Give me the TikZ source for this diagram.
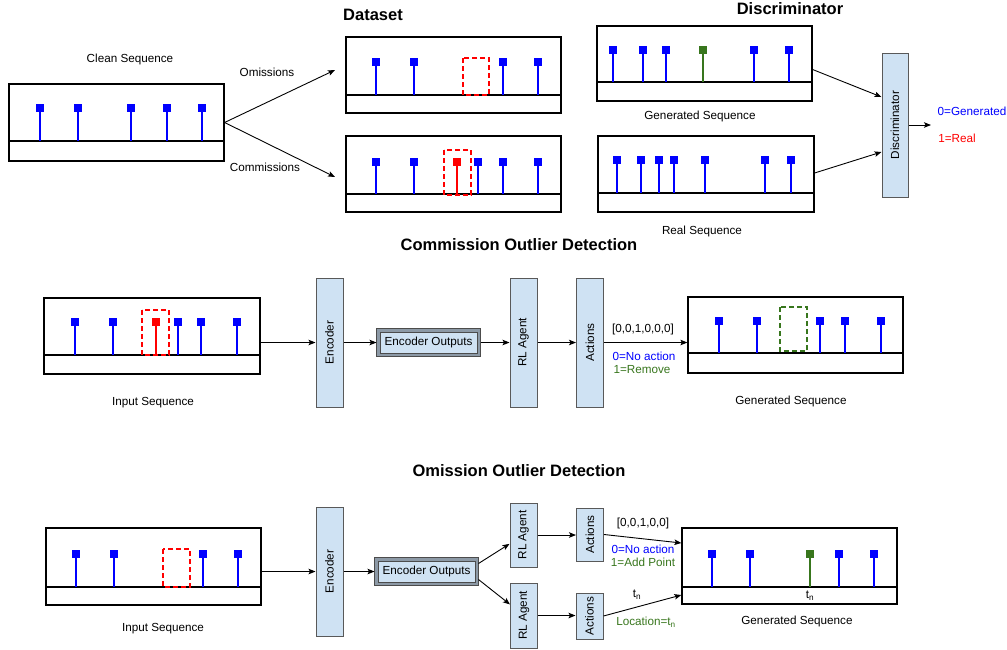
\documentclass[tikz,border=0pt]{standalone}
\usepackage{fontspec}
\setmainfont{Liberation Sans}
\usepackage{tikz}
\usetikzlibrary{calc,arrows.meta}
\definecolor{blockblue}{HTML}{CFE2F3}
\definecolor{darkgreen}{HTML}{38761D}
\definecolor{bevelgray}{HTML}{8C99A6}

\begin{document}
\begin{tikzpicture}[
    x=1pt, y=-1pt,
    font=\fontsize{11.7}{14}\selectfont,
    panel/.style={draw,line width=1.2pt,minimum width=215,minimum height=76,inner sep=0},
    axis/.style={line width=1.8pt},
    stem/.style={line width=1.9pt},
    outlier/.style={line width=1.4pt,dash pattern=on 5pt off 3pt},
    block/.style={draw=black!65,fill=blockblue,line width=1pt,rotate=90,minimum height=27,inner sep=0},
    bevelbox/.style={draw=black!70,fill=blockblue,line width=0.8pt,minimum width=97,minimum height=21,inner sep=0,outer sep=3.5pt,
        preaction={draw=black!70,line width=7.5pt},preaction={draw=bevelgray,line width=5.5pt}},
    title/.style={font=\fontsize{16.5}{20}\selectfont\bfseries},
    every edge/.style={draw,-{Stealth[length=7pt,width=5.5pt,inset=1.5pt]},line width=0.9pt}
    ]
    \useasboundingbox (0,0) rectangle (1007,649);

    % ---- dataset creation
    \node (cleanlbl) at (130,59) {Clean Sequence};
    \node[panel,minimum height=77] (clean) at (116.5,122.5) {};
    \draw[axis] (9,141) -- (224,141);
    \foreach \x in {40,78,131,167,202} {
        \draw[stem,blue] (\x,141) -- (\x,108);
        \fill[blue] (\x-4.2,103.8) rectangle (\x+4.2,112.2);
    }

    \node[title] (dstitle) at (373,15) {Dataset};
    \node[panel] (dsom) at (453.5,75) {};
    \draw[axis] (346,95) -- (561,95);
    \foreach \x in {376,414,503,538} {
        \draw[stem,blue] (\x,95) -- (\x,62);
        \fill[blue] (\x-4.2,57.8) rectangle (\x+4.2,66.2);
    }
    \draw[outlier,red] (463,58) rectangle (489,95);

    \node[panel] (dscom) at (453.5,174) {};
    \draw[axis] (346,194) -- (561,194);
    \foreach \x in {376,414,478,503,538} {
        \draw[stem,blue] (\x,194) -- (\x,162);
        \fill[blue] (\x-4.2,157.8) rectangle (\x+4.2,166.2);
    }
    \draw[stem,red] (457,194) -- (457,162);
    \fill[red] (452.8,157.8) rectangle (461.2,166.2);
    \draw[outlier,red] (444,150) rectangle (471,195);

    \coordinate (omend) at (335,70);
    \coordinate (comend) at (335,177);
    \node (omlbl) at (267,72) {Omissions};
    \node (comlbl) at (265,167) {Commissions};
    \path (clean.east) edge (omend)
          (clean.east) edge (comend);

    % ---- discriminator
    \node[title] (disctitle) at (790,9) {Discriminator};
    \node[panel,minimum height=75] (gen) at (704.5,63.5) {};
    \draw[axis] (597,82) -- (812,82);
    \foreach \x in {613,643,666,754,789} {
        \draw[stem,blue] (\x,82) -- (\x,50);
        \fill[blue] (\x-4.2,45.8) rectangle (\x+4.2,54.2);
    }
    \draw[stem,darkgreen] (703,82) -- (703,50);
    \fill[darkgreen] (698.8,45.8) rectangle (707.2,54.2);
    \node (genlbl) at (700,116) {Generated Sequence};

    \node[panel,minimum width=216] (real) at (706,174) {};
    \draw[axis] (598,193) -- (814,193);
    \foreach \x in {617,641,659,674,705,765,791} {
        \draw[stem,blue] (\x,193) -- (\x,160);
        \fill[blue] (\x-4.2,155.8) rectangle (\x+4.2,164.2);
    }
    \node (reallbl) at (702,231) {Real Sequence};

    \node[block,minimum width=144,minimum height=26] (disc) at (895,125) {Discriminator};
    \coordinate (discout) at (931,125);
    \node[blue] (genout) at (972,111) {0=Generated};
    \node[red] (realout) at (957,138) {1=Real};
    \path ($(gen.east)+(0,6)$) edge ($(disc.north)+(0,-28)$)
          ($(real.east)+(0,-1)$) edge ($(disc.north)+(0,27)$)
          (disc.south) edge (discout);

    % ---- commission outlier detection
    \node[title] (comtitle) at (519,245) {Commission Outlier Detection};
    \node[panel,minimum width=216] (cin) at (152,336) {};
    \draw[axis] (44,355) -- (260,355);
    \foreach \x in {75,113,178,201,237} {
        \draw[stem,blue] (\x,355) -- (\x,322);
        \fill[blue] (\x-4.2,317.8) rectangle (\x+4.2,326.2);
    }
    \draw[stem,red] (156,355) -- (156,322);
    \fill[red] (151.8,317.8) rectangle (160.2,326.2);
    \draw[outlier,red] (142,310) rectangle (169,355);
    \node (cinlbl) at (153,403) {Input Sequence};

    \node[block,minimum width=129] (cenc) at (329.5,342.5) {Encoder};
    \node[bevelbox] (cout) at (428.5,342.5) {Encoder Outputs};
    \node[block,minimum width=129] (crl) at (523.5,342.5) {RL Agent};
    \node[block,minimum width=129] (cact) at (590,342.5) {Actions};

    \node[panel] (cgen) at (795.5,335) {};
    \draw[axis] (688,353) -- (903,353);
    \foreach \x in {719,757,820,845,881} {
        \draw[stem,blue] (\x,353) -- (\x,321);
        \fill[blue] (\x-4.2,316.8) rectangle (\x+4.2,325.2);
    }
    \draw[outlier,darkgreen] (780,307) rectangle (807,351);
    \node (cgenlbl) at (791,401) {Generated Sequence};

    \node (cvec) at (643,329) {[0,0,1,0,0,0]};
    \node[blue] (cnone) at (644,356) {0=No action};
    \node[darkgreen] (cremove) at (642,370) {1=Remove};

    \path (cenc.north -| cin.east) edge (cenc.north)
          (cenc.south) edge (cout.west)
          (cout.east) edge (crl.north)
          (crl.south) edge (cact.north)
          (cact.south) edge (cact.south -| cgen.west);

    % ---- omission outlier detection
    \node[title] (omtitle) at (519,471) {Omission Outlier Detection};
    \node[panel,minimum height=77] (oin) at (153.5,566.5) {};
    \draw[axis] (46,587) -- (261,587);
    \foreach \x in {76,114,203,238} {
        \draw[stem,blue] (\x,587) -- (\x,554);
        \fill[blue] (\x-4.2,549.8) rectangle (\x+4.2,558.2);
    }
    \draw[outlier,red] (163,549) rectangle (190,587);
    \node (oinlbl) at (163,629) {Input Sequence};

    \node[block,minimum width=129] (oenc) at (329.5,571.5) {Encoder};
    \node[bevelbox] (oout) at (426.5,571.5) {Encoder Outputs};
    \node[block,minimum width=64] (orla) at (523.5,535) {RL Agent};
    \node[block,minimum width=65] (orlb) at (524,615.5) {RL Agent};
    \node[block,minimum width=53] (oacta) at (590,534.5) {Actions};
    \node[block,minimum width=46] (oactb) at (589.5,616) {Actions};

    \node[panel] (ogen) at (789.5,566) {};
    \draw[axis] (682,587) -- (897,587);
    \foreach \x in {712,750,839,874} {
        \draw[stem,blue] (\x,587) -- (\x,554);
        \fill[blue] (\x-4.2,549.8) rectangle (\x+4.2,558.2);
    }
    \draw[stem,darkgreen] (810,587) -- (810,554);
    \fill[darkgreen] (805.8,549.8) rectangle (814.2,558.2);
    \node (otn) at (810,596) {t\textsubscript{n}};
    \node (ogenlbl) at (797,621) {Generated Sequence};

    \node (ovec) at (643,523) {[0,0,1,0,0]};
    \node[blue] (onone) at (643,549) {0=No action};
    \node[darkgreen] (oadd) at (643,562) {1=Add Point};
    \node (otloc) at (637,595) {t\textsubscript{n}};
    \node[darkgreen] (oloc) at (646,622) {Location=t\textsubscript{n}};

    \path (oenc.north -| oin.east) edge (oenc.north)
          (oenc.south) edge (oout.west)
          ($(oout.east)+(0,-8)$) edge (orla)
          ($(oout.east)+(0,8)$) edge (orlb)
          (orla.south) edge (orla.south -| oacta.north)
          (orlb.south) edge (orlb.south -| oactb.north)
          (oacta.south) edge ($(ogen.west)+(0,-23)$)
          (oactb.south) edge ($(ogen.west)+(0,29)$);

  \end{tikzpicture}
\end{document}
